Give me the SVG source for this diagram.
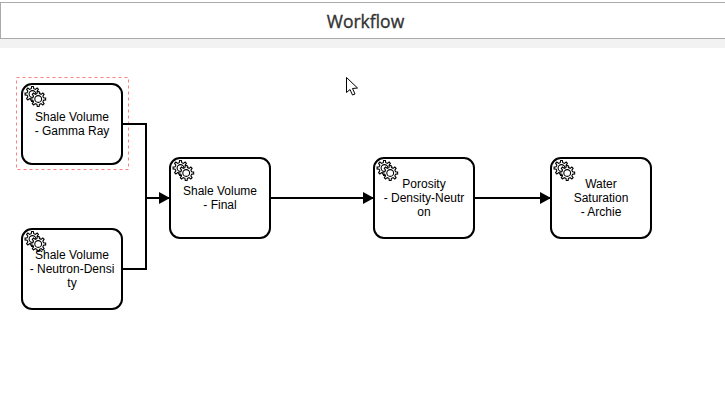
<svg xmlns="http://www.w3.org/2000/svg" xmlns:xlink="http://www.w3.org/1999/xlink" width="725" height="419" viewBox="0 0 725 419">
<style>
.task{fill:#fff;stroke:#000;stroke-width:2}
.label{font-family:"Liberation Sans",Arial,sans-serif;font-size:12px;fill:#000;text-anchor:middle}
.edge{fill:none;stroke:#000;stroke-width:2}
.gear{fill:#fff;stroke:#000;stroke-width:1.1}
.hole{fill:#fff;stroke:#000;stroke-width:1.1}
</style>
<defs>
<marker id="arrow" markerUnits="userSpaceOnUse" markerWidth="12" markerHeight="13" refX="11" refY="6" orient="auto">
<path d="M0 0L11 6L0 12Z" fill="#000"/>
</marker>
<g id="g1"><polygon class="gear" points="5.36,-1.24 7.44,-.91 7.44,.91 5.36,1.24 4.66,2.91 5.91,4.62 4.62,5.91 2.91,4.66 1.24,5.36 .91,7.44 -.91,7.44 -1.24,5.36 -2.91,4.66 -4.62,5.91 -5.91,4.62 -4.66,2.91 -5.36,1.24 -7.44,.91 -7.44,-.91 -5.36,-1.24 -4.66,-2.91 -5.91,-4.62 -4.62,-5.91 -2.91,-4.66 -1.24,-5.36 -.91,-7.44 .91,-7.44 1.24,-5.36 2.91,-4.66 4.62,-5.91 5.91,-4.62 4.66,-2.91"/><circle class="hole" r="3.4"/></g>
<g id="gears"><use xlink:href="#g1" href="#g1" x="10.5" y="10"/><use xlink:href="#g1" href="#g1" x="16.2" y="15"/></g>
</defs>
<rect width="725" height="419" fill="#fff"/>
<rect x="0" y="39" width="725" height="9" fill="#f2f2f2"/>
<rect x="0.5" y="2.5" width="725" height="36" fill="#fff" stroke="#aaa" stroke-width="1"/>
<text x="365.5" y="28" font-family="'Open Sans','Noto Sans',sans-serif" font-size="17.5" font-weight="400" fill="#333" stroke="#333" stroke-width="0.35" text-anchor="middle">Workflow</text>
<rect x="16.5" y="77.5" width="112" height="92" fill="none" stroke="#ff8080" stroke-width="1" stroke-dasharray="3 3"/>
<g id="connectors">
<path class="edge" d="M122 124H146V198" />
<path class="edge" d="M122 269H146V198H170" marker-end="url(#arrow)"/>
<path class="edge" d="M270 198H374" marker-end="url(#arrow)"/>
<path class="edge" d="M474 198H551" marker-end="url(#arrow)"/>
</g>
<g id="node-gamma"><rect class="task" x="22" y="84" width="100" height="80" rx="10"/><use xlink:href="#gears" href="#gears" x="22" y="84"/><text class="label" x="72" y="121">Shale Volume</text><text class="label" x="72" y="135">- Gamma Ray</text></g>
<g id="node-neutron"><rect class="task" x="22" y="229" width="100" height="80" rx="10"/><use xlink:href="#gears" href="#gears" x="22" y="229"/><text class="label" x="72" y="259">Shale Volume</text><text class="label" x="72" y="273">- Neutron-Densi</text><text class="label" x="72" y="287">ty</text></g>
<g id="node-final"><rect class="task" x="170" y="158" width="100" height="80" rx="10"/><use xlink:href="#gears" href="#gears" x="170" y="158"/><text class="label" x="220" y="195">Shale Volume</text><text class="label" x="220" y="209">- Final</text></g>
<g id="node-porosity"><rect class="task" x="374" y="158" width="100" height="80" rx="10"/><use xlink:href="#gears" href="#gears" x="374" y="158"/><text class="label" x="424" y="188">Porosity</text><text class="label" x="424" y="202">- Density-Neutr</text><text class="label" x="424" y="216">on</text></g>
<g id="node-water"><rect class="task" x="551" y="158" width="100" height="80" rx="10"/><use xlink:href="#gears" href="#gears" x="551" y="158"/><text class="label" x="601" y="188">Water</text><text class="label" x="601" y="202">Saturation</text><text class="label" x="601" y="216">- Archie</text></g>
<polygon points="346.5,77.5 346.5,92.5 350,89.5 352.5,95 355,94 352.5,88.5 357.5,88" fill="#fff" stroke="#000" stroke-width="1"/>
</svg>
